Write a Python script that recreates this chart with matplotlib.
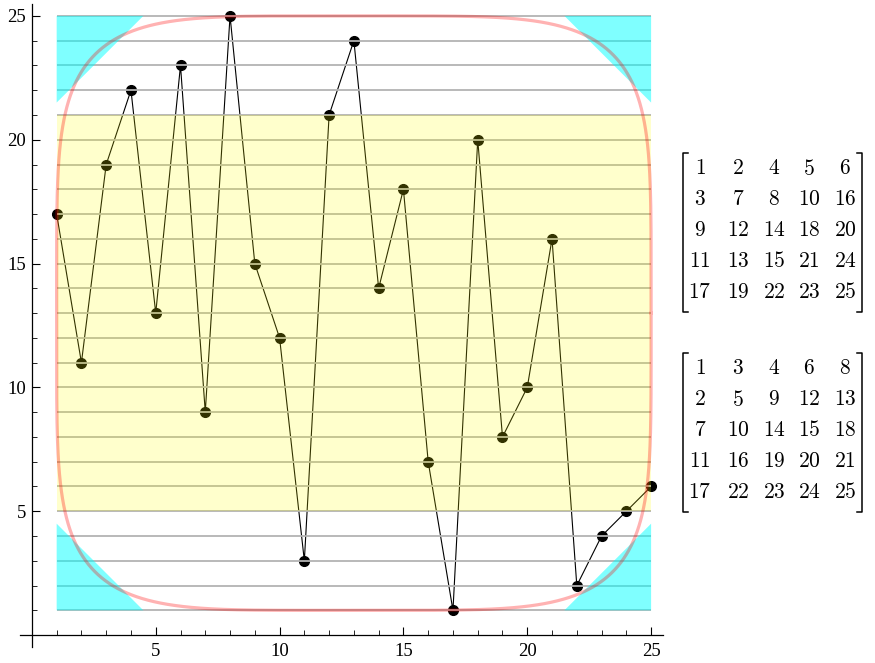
import numpy as np
import matplotlib
matplotlib.use('Agg')
import matplotlib.pyplot as plt
from matplotlib.lines import Line2D
from matplotlib.patches import Polygon, Rectangle

plt.rcParams['font.family'] = 'Liberation Serif'
plt.rcParams['mathtext.fontset'] = 'cm'

# permutation plotted as points
xs = list(range(1, 26))
ys = [17, 11, 19, 22, 13, 23, 9, 25, 15, 12, 3, 21, 24, 14, 18, 7, 1, 20, 8, 10, 16, 2, 4, 5, 6]

# tableaux shown on the right
tableau_p = [[1, 2, 4, 5, 6],
             [3, 7, 8, 10, 16],
             [9, 12, 14, 18, 20],
             [11, 13, 15, 21, 24],
             [17, 19, 22, 23, 25]]
tableau_q = [[1, 3, 4, 6, 8],
             [2, 5, 9, 12, 13],
             [7, 10, 14, 15, 18],
             [11, 16, 19, 20, 21],
             [17, 22, 23, 24, 25]]

# background shapes
grid_levels = list(range(1, 26))
band = (5, 21)
corner_leg = 3.5
lo, hi = 1, 25
major = [5, 10, 15, 20, 25]
minor = [v for v in range(1, 26) if v not in major]

W, H = 875, 663
fig = plt.figure(figsize=(W / 100, H / 100), dpi=100)
ax = fig.add_axes([20 / W, (H - 647) / H, 643 / W, 643 / H])
ax.set_xlim(-0.48, 25.48)
ax.set_ylim(-0.48, 25.48)

# points and joining line
ax.plot(xs, ys, color='black', lw=0.8, zorder=1)
ax.plot(xs, ys, 'o', color='black', ms=7, zorder=2)

# horizontal gray lines
ax.hlines(grid_levels, lo, hi, color='#b3b3b3', lw=1.3, zorder=3)

# yellow band
ax.add_patch(Rectangle((lo, band[0]), hi - lo, band[1] - band[0],
                       facecolor='yellow', alpha=0.2, lw=0, zorder=4))

# cyan corner triangles
corners = [(lo, lo, 1, 1), (hi, lo, -1, 1), (lo, hi, 1, -1), (hi, hi, -1, -1)]
for cx, cy, sx, sy in corners:
    tri = [(cx, cy), (cx + sx * corner_leg, cy), (cx, cy + sy * corner_leg)]
    ax.add_patch(Polygon(tri, closed=True, facecolor='cyan', alpha=0.5,
                         lw=0, zorder=5))

# rounded square (superellipse)
c = (lo + hi) / 2
r = (hi - lo) / 2
n = 5
t = np.linspace(0, 2 * np.pi, 800)
ct, st = np.cos(t), np.sin(t)
px = c + r * np.sign(ct) * np.abs(ct) ** (2 / n)
py = c + r * np.sign(st) * np.abs(st) ** (2 / n)
ax.plot(px, py, color='red', alpha=0.3, lw=2.3, zorder=6)

# axes through the origin
for side in ['top', 'right']:
    ax.spines[side].set_visible(False)
ax.spines['left'].set_position(('data', 0))
ax.spines['bottom'].set_position(('data', 0))
for side in ['left', 'bottom']:
    ax.spines[side].set_linewidth(0.9)
ax.set_xticks(major)
ax.set_yticks(major)
ax.set_xticks(minor, minor=True)
ax.set_yticks(minor, minor=True)
ax.tick_params(which='major', direction='in', length=6, width=0.8,
               labelsize=13.5, pad=6)
ax.tick_params(which='minor', direction='in', length=3.6, width=0.6)
ax.tick_params(axis='y', which='major', pad=4)
ax.patch.set_alpha(0)


def draw_matrix(rows, top, bottom):
    col_x = [700, 738, 774, 809, 845]
    row_y = np.linspace(top + 17, bottom - 19, len(rows))
    for i, row in enumerate(rows):
        for j, v in enumerate(row):
            fig.text(col_x[j] / W, 1 - row_y[i] / H, '$%d$' % v,
                     ha='center', va='center', fontsize=15.5)
    for bx, s in [(683, 1), (862, -1)]:
        xs_b = [bx + s * 5, bx, bx, bx + s * 5]
        ys_b = [top, top, bottom, bottom]
        fig.add_artist(Line2D([x / W for x in xs_b], [1 - y / H for y in ys_b],
                              color='black', lw=1.1, transform=fig.transFigure))


draw_matrix(tableau_p, 153, 312)
draw_matrix(tableau_q, 353, 512)

fig.savefig('out.png', dpi=100)
